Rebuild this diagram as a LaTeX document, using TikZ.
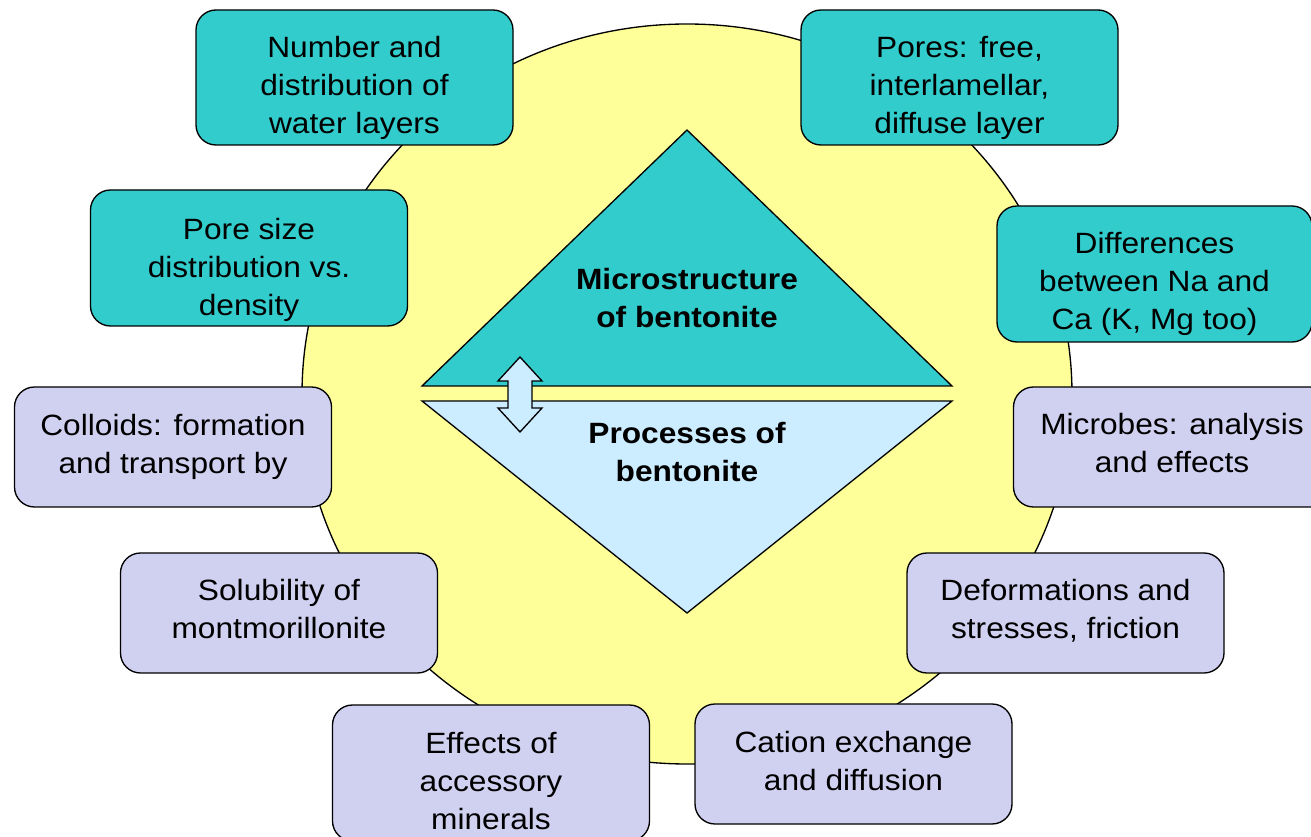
\documentclass[tikz,border=0pt]{standalone}
\usepackage{fontspec}
\setmainfont{Liberation Sans}[FakeStretch=1.08]
\definecolor{tealbox}{HTML}{33CCCC}
\definecolor{lavbox}{HTML}{D0D0F0}
\definecolor{yell}{HTML}{FFFF99}
\definecolor{lblue}{HTML}{CCECFF}
\begin{document}
\begin{tikzpicture}[x=0.75pt,y=-0.75pt,
  box/.style={draw=black,line width=1pt,rounded corners=15pt,align=center,
    font=\fontsize{22}{28.5}\selectfont,inner sep=0pt},
  tbox/.style={box,fill=tealbox,minimum width=237.75pt,minimum height=101.25pt},
  lbox/.style={box,fill=lavbox,minimum width=237.75pt,minimum height=90pt},
  tdown/.style={execute at begin node={\rule{0pt}{#1}}},
  tup/.style={execute at end node={\rule[-#1]{0pt}{0pt}}},
  ctext/.style={align=center,font=\fontsize{22}{28.5}\selectfont\bfseries,inner sep=0pt},
  shp/.style={draw=black,line width=1pt,line join=miter}]
\useasboundingbox (0,0) rectangle (1311,837);
% background ellipse
\fill[white] (0,0) rectangle (1311,837);
\draw[shp,fill=yell] (687,394) ellipse [x radius=385,y radius=370];
% central triangles
\draw[shp,fill=tealbox] (422,386) -- (952,386) -- (687,130) -- cycle;
\draw[shp,fill=lblue] (422,401) -- (952,401) -- (687,613) -- cycle;
% double arrow
\draw[shp,fill=lblue] (520,357) -- (542,381) -- (532,381) -- (532,408) -- (542,408)
  -- (520,432) -- (498,408) -- (508,408) -- (508,381) -- (498,381) -- cycle;
\node[ctext] (micro) at (687,298) {Microstructure\\of bentonite};
\node[ctext] (proc) at (687,452) {Processes of\\bentonite};
% teal boxes
\node[tbox,tdown=88pt] (water) at (354.5,77.5) {Number and\\distribution of\\water layers};
\node[tbox,tdown=88pt] (pores) at (959.5,77.5) {Pores: free,\\interlamellar,\\diffuse layer};
\node[tbox,minimum height=102pt,tdown=91pt] (psd) at (249,258) {Pore size\\distribution vs.\\density};
\node[tbox,minimum width=236.25pt,minimum height=102pt,tdown=88pt] (naca) at (1154.5,274) {Differences\\between Na and\\Ca (K, Mg too)};
% lavender boxes
\node[lbox] (coll) at (173,447) {Colloids: formation\\and transport by};
\node[lbox,tup=6pt] (micr) at (1172,447) {Microbes: analysis\\and effects};
\node[lbox,tup=6pt] (sol) at (279,613) {Solubility of\\montmorillonite};
\node[lbox,tup=6pt] (def) at (1065.5,613) {Deformations and\\stresses, friction};
\node[lbox,minimum height=102pt,tdown=85pt] (acc) at (491,773) {Effects of\\accessory\\minerals};
\node[lbox,tup=4.5pt] (cat) at (853.5,764) {Cation exchange\\and diffusion};
\end{tikzpicture}
\end{document}
